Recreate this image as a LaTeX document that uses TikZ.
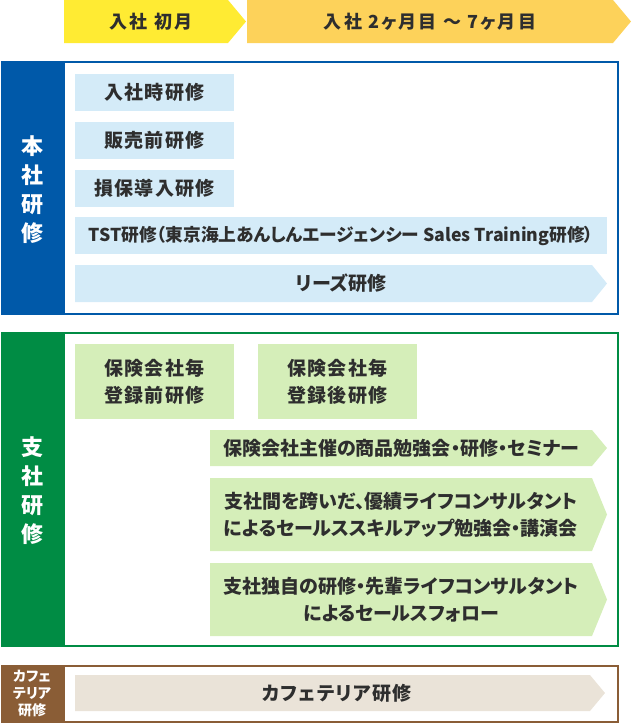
\documentclass[tikz,border=0pt]{standalone}
\usepackage{fontspec}
\newfontfamily\jp{Noto Sans CJK JP}[RawFeature=+palt]
\newfontfamily\jpls{Noto Sans CJK JP}[RawFeature=+palt,LetterSpace=12]
\newfontfamily\jpk{Noto Sans CJK JP}[RawFeature=+palt,LetterSpace=7]
\definecolor{hdrY}{HTML}{FFEB33}
\definecolor{hdrO}{HTML}{FDD25A}
\definecolor{bluM}{HTML}{0059A9}
\definecolor{bluL}{HTML}{D4EBF8}
\definecolor{grnM}{HTML}{008C44}
\definecolor{grnL}{HTML}{D5EEB9}
\definecolor{brnM}{HTML}{8A5D36}
\definecolor{brnL}{HTML}{EAE3D8}
\definecolor{txtc}{HTML}{2E2E2E}
\newcommand\tipbox[6]{\fill[#6] (#1,#2) -- (#3,#2) -- ({#3+#5},{(#2+#4)/2}) -- (#3,#4) -- (#1,#4) -- cycle;}
\tikzset{
  hdr/.style={text=txtc, font=\jpls\bfseries\fontsize{18}{27}\selectfont, align=center, inner sep=0pt},
  txt/.style={text=txtc, font=\jp\bfseries\fontsize{19}{27}\selectfont, align=center, inner sep=0pt},
  txtk/.style={text=txtc, font=\jpk\bfseries\fontsize{19}{27}\selectfont, align=center, inner sep=0pt},
  txtn/.style={text=txtc, font=\jp\bfseries\fontsize{17.7}{27}\selectfont, align=center, inner sep=0pt},
  band/.style={text=white, font=\jp\bfseries\fontsize{22}{29}\selectfont, align=center, inner sep=0pt},
  bands/.style={text=white, font=\jp\bfseries\fontsize{14}{17}\selectfont, align=center, inner sep=0pt},
}
\begin{document}
\begin{tikzpicture}[x=1pt,y=-1pt]
\useasboundingbox (0,0) rectangle (632,724);
% headers
\tipbox{64}{0}{228}{43}{18}{hdrY}
\tipbox{247}{0}{613}{43}{18}{hdrO}
\node[hdr] (h1) at (151,21.5) {入社 初月};
\node[hdr] (h2) at (430,21.5) {入社 2ヶ月目 〜 7ヶ月目};
% blue section
\fill[bluM] (1,61) rectangle (65,315);
\draw[bluM, line width=2pt] (2,62) rectangle (618,314);
\node[band] (b0) at (32,190) {本\\社\\研\\修};
\fill[bluL] (75,74) rectangle (234,111);
\node[txtk] (b1) at (154.5,92.5) {入社時研修};
\fill[bluL] (75,122) rectangle (234,159);
\node[txtk] (b2) at (154.5,140.5) {販売前研修};
\fill[bluL] (75,170) rectangle (234,207);
\node[txtk] (b3) at (154.5,188.5) {損保導入研修};
\fill[bluL] (75,217) rectangle (607,254);
\node[txtn] (b4) at (341,235.5) {TST研修（東京海上あんしんエージェンシー Sales Training研修）};
\tipbox{75}{265}{592}{302}{15}{bluL}
\node[txt] (b5) at (341,283.5) {リーズ研修};
% green section
\fill[grnM] (1,332) rectangle (65,647);
\draw[grnM, line width=2pt] (2,333) rectangle (618,646);
\node[band] (g0) at (32,491) {支\\社\\研\\修};
\fill[grnL] (75,344) rectangle (234,419);
\node[txtk] (g1) at (154.5,381.5) {保険会社毎\\登録前研修};
\fill[grnL] (258,344) rectangle (417,419);
\node[txtk] (g2) at (337.5,381.5) {保険会社毎\\登録後研修};
\tipbox{210}{430}{592}{466}{15}{grnL}
\node[txt] (g3) at (401,448) {保険会社主催の商品勉強会・研修・セミナー};
\tipbox{210}{478}{592}{551}{15}{grnL}
\node[txt] (g4) at (401,514.5) {支社間を跨いだ、優績ライフコンサルタント\\によるセールススキルアップ勉強会・講演会};
\tipbox{210}{563}{592}{636}{15}{grnL}
\node[txt] (g5) at (401,599.5) {支社独自の研修・先輩ライフコンサルタント\\によるセールスフォロー};
% brown section
\fill[brnM] (1,665) rectangle (65,723);
\draw[brnM, line width=2pt] (2,666) rectangle (618,722);
\node[bands] (c0) at (32,693.5) {カフェ\\テリア\\研修};
\tipbox{75}{675}{590}{711}{15}{brnL}
\node[txtk] (c1) at (337,693) {カフェテリア研修};
\end{tikzpicture}
\end{document}
